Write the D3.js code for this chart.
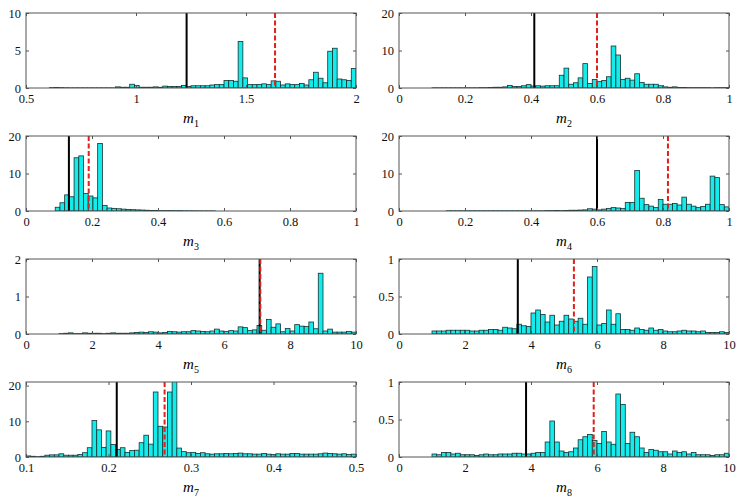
<!DOCTYPE html>
<html lang="en">
<head>
<meta charset="UTF-8">
<title>Posterior histograms m1 - m8</title>
<script src="https://d3js.org/d3.v7.min.js"></script>
<style>
    body { margin: 0; background: #fff; }
    svg { display: block; }
    .tick line { stroke: #555; }
</style>
</head>
<body>
<svg width="744" height="502"></svg>
<script>
    // ---- data (70 bins per panel) ----
    let names = ["1", "2", "3", "4", "5", "6", "7", "8"]

    let xDomains = [[0.5, 2], [0, 1], [0, 1], [0, 1], [0, 10], [0, 10], [0.1, 0.5], [0, 10]]
    let yDomains = [[0, 10], [0, 20], [0, 20], [0, 20], [0, 2], [0, 1], [0, 21], [0, 1]]

    let xTicks = [
        [0.5, 1, 1.5, 2],
        [0, 0.2, 0.4, 0.6, 0.8, 1],
        [0, 0.2, 0.4, 0.6, 0.8, 1],
        [0, 0.2, 0.4, 0.6, 0.8, 1],
        [0, 2, 4, 6, 8, 10],
        [0, 2, 4, 6, 8, 10],
        [0.1, 0.2, 0.3, 0.4, 0.5],
        [0, 2, 4, 6, 8, 10]
    ]
    let yTicks = [[0, 5, 10], [0, 10, 20], [0, 10, 20], [0, 10, 20], [0, 1, 2], [0, 0.5, 1], [0, 10, 20], [0, 0.5, 1]]

    // where the first bin starts
    let binStarts = [0.5, 0, 0.0886, 0, 0, 0, 0.1, 0]

    // solid black line and dashed red line positions
    let blackLines = [1.23, 0.41, 0.13, 0.6, 7.08, 3.6, 0.21, 3.85]
    let redLines = [1.632, 0.6, 0.19, 0.815, 7.1, 5.3, 0.268, 5.9]

    let m1 = [0, 0, 0, 0, 0, 0.05, 0.08, 0.05, 0.03, 0.02,
        0.02, 0.02, 0.02, 0.02, 0.02, 0.02, 0.02, 0.02, 0.02, 0.15,
        0.1, 0.1, 0.5, 0.35, 0.1, 0.1, 0.1, 0.15, 0.1, 0.25,
        0.2, 0.2, 0.2, 0.35, 0.2, 0.3, 0.3, 0.3, 0.3, 0.4,
        0.45, 0.45, 1.0, 1.0, 0.9, 6.2, 1.35, 0.45, 0.45, 0.45,
        0.55, 0.45, 0.95, 0.9, 0.4, 0.55, 0.45, 0.45, 0.6, 0.4,
        1.1, 2.1, 1.3, 0.7, 4.9, 5.3, 1.2, 1.1, 1.0, 2.6]

    let m2 = [0, 0, 0, 0, 0, 0, 0, 0.05, 0.05, 0.05,
        0.05, 0.05, 0.05, 0.05, 0.05, 0.05, 0.05, 0.1, 0.1, 0.15,
        0.2, 0.2, 0.3, 0.7, 0.4, 0.4, 0.6, 0.9, 0.5, 0.6,
        0.5, 0.6, 0.6, 0.6, 3.4, 5.3, 1.0, 1.4, 2.7, 6.5,
        1.2, 2.3, 1.7, 2.0, 3.0, 11.2, 8.8, 2.3, 2.6, 2.1,
        3.8, 1.5, 1.0, 1.0, 1.0, 0.6, 0.3, 0.2, 0.3, 0.15,
        0.15, 0.1, 0.1, 0.1, 0.1, 0.1, 0.05, 0.1, 0.1, 0.1]

    let m3 = [1.0, 2.2, 4.3, 3.8, 14.2, 14.7, 4.7, 4.0, 3.5, 18.0,
        1.5, 0.8, 0.7, 0.6, 0.5, 0.4, 0.35, 0.3, 0.25, 0.2,
        0.15, 0.15, 0.1, 0.1, 0.1, 0.08, 0.1, 0.05, 0.05, 0.04,
        0.03, 0.02, 0.02, 0.02]

    let m4 = [0, 0, 0, 0, 0, 0, 0, 0, 0, 0,
        0.05, 0.05, 0.05, 0.05, 0.05, 0.05, 0.05, 0.05, 0.05, 0.05,
        0.05, 0.05, 0.05, 0.05, 0.05, 0.05, 0.05, 0.05, 0.05, 0.05,
        0.05, 0.1, 0.1, 0.15, 0.1, 0.15, 0.2, 0.2, 0.25, 0.3,
        0.6, 0.5, 0.3, 0.5, 0.7, 0.9, 0.8, 0.7, 2.3, 2.3,
        10.8, 3.4, 1.7, 1.3, 0.9, 3.1, 1.8, 1.8, 2.0, 1.6,
        3.7, 1.8, 1.3, 0.9, 1.2, 1.8, 9.3, 8.9, 1.7, 1.1]

    let m5 = [0, 0, 0, 0, 0, 0, 0, 0.01, 0.02, 0.03,
        0.01, 0.01, 0.03, 0.02, 0.02, 0.02, 0.01, 0.02, 0.03, 0.02,
        0.02, 0.02, 0.03, 0.04, 0.05, 0.04, 0.06, 0.05, 0.03, 0.04,
        0.07, 0.06, 0.05, 0.06, 0.06, 0.09, 0.08, 0.07, 0.06, 0.08,
        0.13, 0.08, 0.07, 0.09, 0.08, 0.19, 0.17, 0.09, 0.11, 0.23,
        0.1, 0.39, 0.18, 0.27, 0.06, 0.15, 0.08, 0.25, 0.21, 0.2,
        0.32, 0.14, 1.62, 0.08, 0.13, 0.05, 0.05, 0.05, 0.07, 0.05]

    let m6 = [0, 0, 0, 0, 0, 0, 0, 0.04, 0.04, 0.04,
        0.05, 0.05, 0.05, 0.05, 0.05, 0.04, 0.04, 0.05, 0.05, 0.06,
        0.06, 0.05, 0.09, 0.08, 0.07, 0.13, 0.11, 0.1, 0.28, 0.32,
        0.26, 0.16, 0.25, 0.12, 0.17, 0.25, 0.2, 0.17, 0.21, 0.13,
        0.76, 0.9, 0.12, 0.14, 0.32, 0.13, 0.27, 0.06, 0.06, 0.05,
        0.08, 0.06, 0.05, 0.08, 0.05, 0.06, 0.04, 0.03, 0.03, 0.04,
        0.05, 0.04, 0.04, 0.03, 0.04, 0.02, 0.02, 0.02, 0.03, 0.02]

    let m7 = [0.3, 0.2, 0.1, 0.2, 0.5, 0.6, 0.6, 0.9, 0.5, 0.5,
        0.5, 0.7, 1.2, 2.6, 10.2, 7.6, 2.7, 7.3, 3.5, 2.1,
        2.6, 1.3, 1.8, 1.9, 4.0, 6.1, 3.6, 18.2, 8.6, 8.4,
        18.2, 24, 2.5, 1.5, 1.2, 1.3, 1.0, 1.2, 0.9, 0.8,
        0.9, 0.9, 1.0, 0.9, 1.0, 1.1, 0.9, 0.9, 0.8, 0.8,
        1.0, 0.8, 0.7, 0.9, 0.8, 0.8, 1.0, 1.0, 0.8, 0.8,
        0.8, 0.8, 0.9, 1.1, 1.0, 0.9, 0.8, 0.9, 0.7, 0.8]

    let m8 = [0, 0, 0, 0, 0, 0, 0, 0.04, 0.03, 0.06,
        0.06, 0.04, 0.05, 0.03, 0.03, 0.03, 0.02, 0.03, 0.04, 0.03,
        0.03, 0.04, 0.04, 0.04, 0.05, 0.05, 0.04, 0.04, 0.05, 0.06,
        0.06, 0.2, 0.48, 0.2, 0.08, 0.06, 0.07, 0.12, 0.23, 0.27,
        0.3, 0.22, 0.18, 0.34, 0.2, 0.17, 0.84, 0.7, 0.18, 0.33,
        0.27, 0.12, 0.06, 0.1, 0.09, 0.07, 0.07, 0.04, 0.08, 0.06,
        0.07, 0.04, 0.06, 0.03, 0.03, 0.03, 0.02, 0.03, 0.03, 0.05]

    let series = [m1, m2, m3, m4, m5, m6, m7, m8]

    // ---- layout ----
    let svg = d3.select("svg")
    let colX = [26, 399]
    let rowY = [13, 136, 259, 382]
    let W = 330, H = 75
    let nBins = 70
    let serif = "'Liberation Serif', 'Times New Roman', Times, 'DejaVu Serif', serif"
    let fmt = function (d) { return String(d) }

    series.forEach(function (vals, p) {
        let g = svg.append("g")
            .attr("transform", "translate(" + colX[p % 2] + "," + rowY[Math.floor(p / 2)] + ")")

        let x = d3.scaleLinear().domain(xDomains[p]).range([0, W])
        let y = d3.scaleLinear().domain(yDomains[p]).range([H, 0])
        let bw = (xDomains[p][1] - xDomains[p][0]) / nBins

        g.append("clipPath").attr("id", "clip" + p)
            .append("rect").attr("width", W).attr("height", H)

        let plot = g.append("g").attr("clip-path", "url(#clip" + p + ")")

        plot.selectAll("rect.bar")
            .data(vals.map(function (v, i) { return { x0: binStarts[p] + i * bw, v: v } })
                .filter(function (d) { return d.v > 0 }))
            .enter().append("rect")
            .attr("class", "bar")
            .attr("x", function (d) { return x(d.x0) })
            .attr("width", function (d) { return x(d.x0 + bw) - x(d.x0) })
            .attr("y", function (d) { return y(d.v) })
            .attr("height", function (d) { return H - y(d.v) })
            .style("fill", "#14ecec")
            .style("stroke", "#163030")
            .style("stroke-width", 0.8)

        // reference lines
        plot.append("line")
            .attr("x1", x(blackLines[p])).attr("x2", x(blackLines[p]))
            .attr("y1", 0).attr("y2", H)
            .style("stroke", "#000").style("stroke-width", 2)
        plot.append("line")
            .attr("x1", x(redLines[p])).attr("x2", x(redLines[p]))
            .attr("y1", 0).attr("y2", H)
            .style("stroke", "#e0201c").style("stroke-width", 2)
            .style("stroke-dasharray", "5,2.5")

        // axes: inward ticks on all four sides
        let bottom = g.append("g").attr("transform", "translate(0," + H + ")")
            .call(d3.axisBottom(x).tickValues(xTicks[p]).tickSize(-3).tickPadding(6).tickFormat(fmt))
        let top = g.append("g")
            .call(d3.axisTop(x).tickValues(xTicks[p]).tickSize(-3).tickFormat(""))
        let left = g.append("g")
            .call(d3.axisLeft(y).tickValues(yTicks[p]).tickSize(-3).tickPadding(5).tickFormat(fmt))
        let right = g.append("g").attr("transform", "translate(" + W + ",0)")
            .call(d3.axisRight(y).tickValues(yTicks[p]).tickSize(-3).tickFormat(""))
        ;[bottom, top, left, right].forEach(function (a) {
            a.select(".domain").remove()
            a.selectAll("text")
                .style("font-family", serif)
                .style("font-size", "12.5px")
                .style("fill", "#111")
        })

        g.append("rect")
            .attr("width", W).attr("height", H)
            .style("fill", "none").style("stroke", "#555").style("stroke-width", 1)

        // axis label m_k
        let lab = g.append("text")
            .attr("x", W / 2).attr("y", H + 35)
            .attr("text-anchor", "middle")
            .style("font-family", serif)
            .style("font-size", "15px")
        lab.append("tspan").style("font-style", "italic").text("m")
        lab.append("tspan").attr("dy", 4).style("font-size", "10px").text(names[p])
    })
</script>
</body>
</html>
